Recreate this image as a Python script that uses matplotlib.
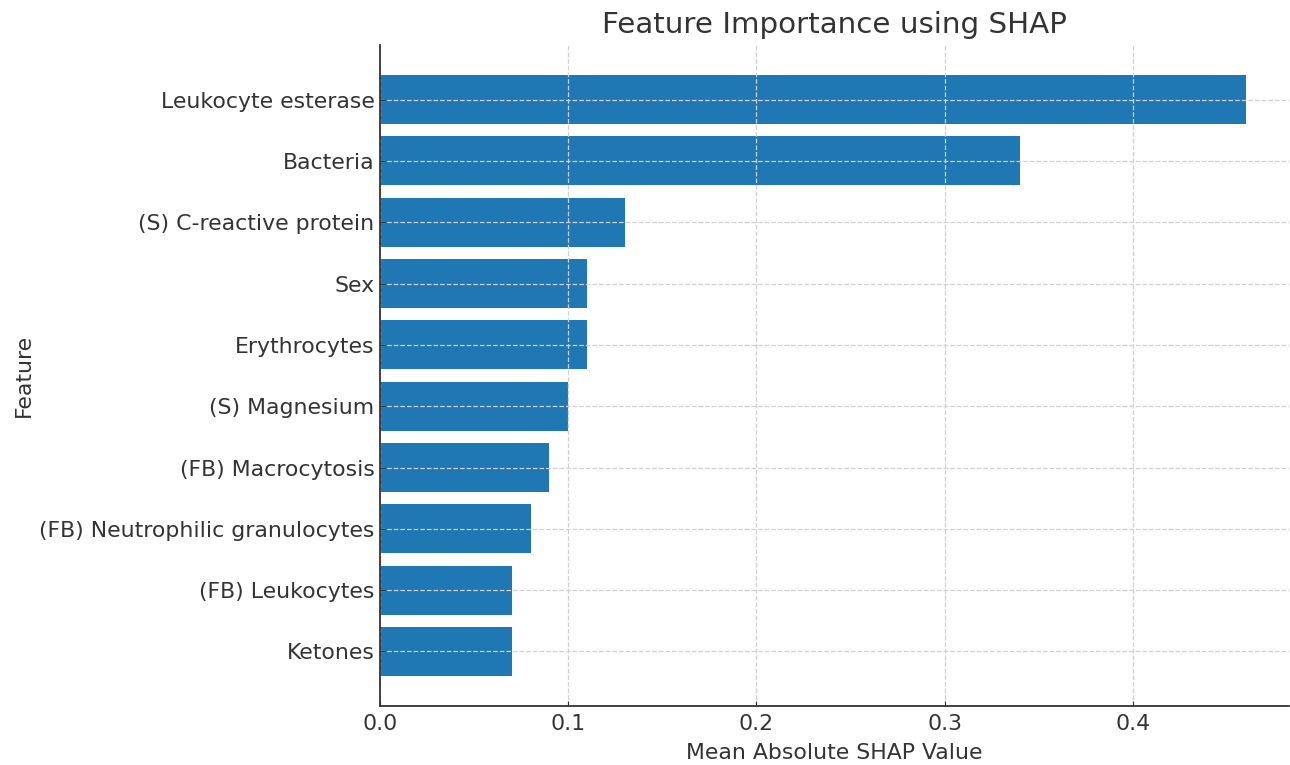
import matplotlib.pyplot as plt

features = ['Leukocyte esterase', 'Bacteria', '(S) C-reactive protein', 'Sex',
            'Erythrocytes', '(S) Magnesium', '(FB) Macrocytosis',
            '(FB) Neutrophilic granulocytes', '(FB) Leukocytes', 'Ketones']
shap_values = [0.46, 0.34, 0.13, 0.11, 0.11, 0.10, 0.09, 0.08, 0.07, 0.07]

txt = '#333333'
plt.rcParams['font.family'] = 'DejaVu Sans'

fig = plt.figure(figsize=(12.9, 7.65), dpi=100)
ax = fig.add_axes([0.2946, 0.0771, 0.7045, 0.8640])

ax.barh(features, shap_values, height=0.8, color='#1f77b4')
ax.invert_yaxis()

ax.set_title('Feature Importance using SHAP', fontsize=21.2, color=txt, pad=9)
ax.set_xlabel('Mean Absolute SHAP Value', fontsize=15.8, color=txt, labelpad=6)
ax.set_ylabel('Feature', fontsize=15.8, color=txt, labelpad=4)

ax.grid(True, linestyle='--', color='#d0d0d0', linewidth=0.9)
ax.tick_params(axis='both', labelsize=15.8, labelcolor=txt, color=txt, direction='in')
ax.tick_params(axis='y', pad=4)
ax.tick_params(axis='x', pad=6)
ax.spines['top'].set_visible(False)
ax.spines['right'].set_visible(False)
for s in ['left', 'bottom']:
    ax.spines[s].set_color(txt)
    ax.spines[s].set_linewidth(1.3)

plt.savefig('out.png', dpi=100)
